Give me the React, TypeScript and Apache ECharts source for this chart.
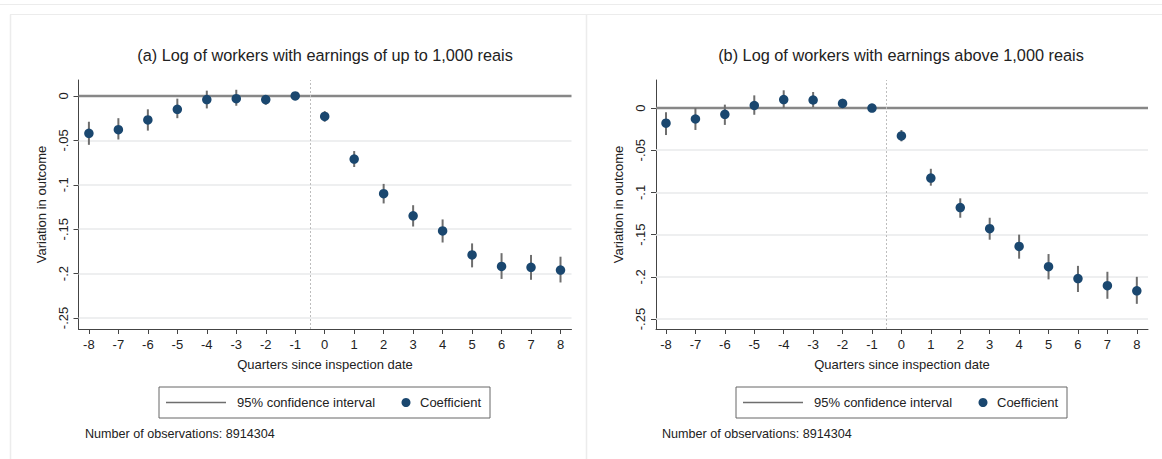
import React, { useEffect, useRef } from "react";
import * as echarts from "echarts";

const quarters = [-8, -7, -6, -5, -4, -3, -2, -1, 0, 1, 2, 3, 4, 5, 6, 7, 8];

const coefA = [-0.042, -0.038, -0.027, -0.015, -0.004, -0.003, -0.004, 0, -0.023, -0.071, -0.11, -0.135, -0.152, -0.179, -0.192, -0.193, -0.196];
const lowA = [-0.055, -0.049, -0.039, -0.025, -0.014, -0.011, -0.01, 0, -0.029, -0.08, -0.121, -0.147, -0.165, -0.193, -0.206, -0.207, -0.21];
const highA = [-0.029, -0.025, -0.015, -0.003, 0.006, 0.007, -0.001, 0, -0.017, -0.062, -0.099, -0.123, -0.139, -0.166, -0.177, -0.179, -0.181];

const coefB = [-0.018, -0.013, -0.0075, 0.003, 0.01, 0.0095, 0.0055, 0, -0.033, -0.083, -0.118, -0.143, -0.164, -0.188, -0.202, -0.2105, -0.2165];
const lowB = [-0.032, -0.026, -0.02, -0.008, 0.0, 0.001, 0.0, 0, -0.0395, -0.092, -0.13, -0.156, -0.1785, -0.203, -0.218, -0.226, -0.232];
const highB = [-0.005, 0.0, 0.004, 0.015, 0.021, 0.019, 0.011, 0, -0.026, -0.072, -0.107, -0.13, -0.15, -0.173, -0.187, -0.194, -0.2];

const yTickValues = [0, -0.05, -0.1, -0.15, -0.2, -0.25];
const yTickLabels = ["0", "-.05", "-.1", "-.15", "-.2", "-.25"];
const gridValues = [-0.05, -0.1, -0.15, -0.2, -0.25];

const titles = [
  "(a) Log of workers with earnings of up to 1,000 reais",
  "(b) Log of workers with earnings above 1,000 reais",
];
const xAxisName = "Quarters since inspection date";
const yAxisName = "Variation in outcome";
const legendCI = "95% confidence interval";
const legendCoef = "Coefficient";
const obsNote = "Number of observations: 8914304";

const FONT = "'Liberation Sans', Arial, sans-serif";
const NAVY = "#1a476f";
const CI_GREY = "#6e6e6e";
const TEXT = "#222";

export default function App() {
  const ref = useRef<HTMLDivElement>(null);

  useEffect(() => {
    if (!ref.current) return;
    const chart = echarts.init(ref.current, undefined, { renderer: "svg" });

    const grids = [
      { left: 78.5, top: 80, width: 493, height: 249 },
      { left: 656, top: 80, width: 492, height: 249 },
    ];
    const yRanges = [
      { min: -0.2624, max: 0.018 },
      { min: -0.2618, max: 0.0332 },
    ];
    const xRanges = [
      { min: -8.353, max: 8.373 },
      { min: -8.34, max: 8.38 },
    ];
    const panels = [
      { coef: coefA, low: lowA, high: highA },
      { coef: coefB, low: lowB, high: highB },
    ];

    const xAxes = grids.map((_, i) => ({
      type: "value",
      gridIndex: i,
      min: xRanges[i].min,
      max: xRanges[i].max,
      name: xAxisName,
      nameLocation: "middle",
      nameGap: 29,
      nameTextStyle: { fontFamily: FONT, fontSize: 13, color: TEXT },
      axisLine: { show: true, onZero: false, lineStyle: { color: "#444", width: 1 } },
      axisTick: { show: true, customValues: quarters, length: 5, lineStyle: { color: "#444" } },
      axisLabel: {
        customValues: quarters,
        margin: 9,
        fontFamily: FONT,
        fontSize: 13,
        color: TEXT,
        formatter: (v: number) => String(v),
      },
      splitLine: { show: false },
    }));

    const yAxes = grids.map((_, i) => ({
      type: "value",
      gridIndex: i,
      min: yRanges[i].min,
      max: yRanges[i].max,
      name: yAxisName,
      nameLocation: "middle",
      nameRotate: 90,
      nameGap: 31,
      nameTextStyle: { fontFamily: FONT, fontSize: 13, color: TEXT },
      axisLine: { show: true, onZero: false, lineStyle: { color: "#444", width: 1 } },
      axisTick: { show: true, customValues: yTickValues, length: 5, lineStyle: { color: "#444" } },
      axisLabel: {
        customValues: yTickValues,
        rotate: 90,
        margin: 9,
        fontFamily: FONT,
        fontSize: 13,
        color: TEXT,
        formatter: (v: number) => {
          const idx = yTickValues.findIndex((t) => Math.abs(t - v) < 1e-6);
          return idx >= 0 ? yTickLabels[idx] : "";
        },
      },
      splitLine: { show: false },
    }));

    const series: any[] = [];
    panels.forEach((p, i) => {
      series.push({
        type: "custom",
        xAxisIndex: i,
        yAxisIndex: i,
        silent: true,
        z: 2,
        data: quarters.map((q, k) => [q, p.low[k], p.high[k]]),
        renderItem: (params: any, api: any) => {
          const a = api.coord([api.value(0), api.value(1)]);
          const b = api.coord([api.value(0), api.value(2)]);
          return {
            type: "line",
            shape: { x1: a[0], y1: a[1], x2: b[0], y2: b[1] },
            style: { stroke: CI_GREY, lineWidth: 2 },
          };
        },
        markLine: {
          silent: true,
          z: 1,
          symbol: "none",
          label: { show: false },
          data: [
            ...gridValues.map((g) => ({ yAxis: g, lineStyle: { color: "#e8eaeb", width: 1.5, type: "solid" } })),
            { yAxis: 0, lineStyle: { color: "#878787", width: 2.4, type: "solid" } },
            { xAxis: -0.5, lineStyle: { color: "#bdbdbd", width: 1, type: [2, 2] } },
          ],
        },
      });
      series.push({
        type: "scatter",
        xAxisIndex: i,
        yAxisIndex: i,
        z: 3,
        symbol: "circle",
        symbolSize: 9.5,
        itemStyle: { color: NAVY, opacity: 1 },
        data: quarters.map((q, k) => [q, p.coef[k]]),
      });
    });

    const legendGraphics = (ox: number) => [
      {
        type: "rect",
        shape: { x: 159 + ox, y: 387, width: 331, height: 31 },
        style: { fill: "#fff", stroke: "#666", lineWidth: 1 },
      },
      {
        type: "line",
        shape: { x1: 166 + ox, y1: 402.5, x2: 226 + ox, y2: 402.5 },
        style: { stroke: CI_GREY, lineWidth: 1.5 },
      },
      {
        type: "text",
        x: 237 + ox,
        y: 402.5,
        style: { text: legendCI, fontFamily: FONT, fontSize: 13, fill: TEXT, verticalAlign: "middle" },
      },
      {
        type: "circle",
        shape: { cx: 406 + ox, cy: 402.5, r: 4.5 },
        style: { fill: NAVY },
      },
      {
        type: "text",
        x: 420 + ox,
        y: 402.5,
        style: { text: legendCoef, fontFamily: FONT, fontSize: 13, fill: TEXT, verticalAlign: "middle" },
      },
      {
        type: "text",
        x: 85 + ox,
        y: 434,
        style: { text: obsNote, fontFamily: FONT, fontSize: 12.6, fill: TEXT, verticalAlign: "middle" },
      },
    ];

    chart.setOption({
      animation: false,
      backgroundColor: "#fff",
      title: [
        {
          text: titles[0],
          left: 325,
          top: 47,
          padding: 0,
          textAlign: "center",
          textStyle: { fontFamily: FONT, fontSize: 16.3, fontWeight: "normal", color: TEXT },
        },
        {
          text: titles[1],
          left: 901,
          top: 47,
          padding: 0,
          textAlign: "center",
          textStyle: { fontFamily: FONT, fontSize: 16.3, fontWeight: "normal", color: TEXT },
        },
      ],
      grid: grids.map((g) => ({ ...g, containLabel: false })),
      xAxis: xAxes,
      yAxis: yAxes,
      series,
      graphic: [
        { type: "line", z: -10, shape: { x1: 0, y1: 4.5, x2: 1162, y2: 4.5 }, style: { stroke: "#ececec", lineWidth: 1 } },
        { type: "line", z: -10, shape: { x1: 10, y1: 14.5, x2: 1162, y2: 14.5 }, style: { stroke: "#ececec", lineWidth: 1 } },
        { type: "line", z: -10, shape: { x1: 10.5, y1: 14.5, x2: 10.5, y2: 459 }, style: { stroke: "#ececec", lineWidth: 1.5 } },
        { type: "line", z: -10, shape: { x1: 586.5, y1: 14.5, x2: 586.5, y2: 459 }, style: { stroke: "#ececec", lineWidth: 1.5 } },
        ...legendGraphics(0),
        ...legendGraphics(577),
      ],
    });

    return () => chart.dispose();
  }, []);

  return (
    <div
      ref={ref}
      style={{ position: "fixed", left: 0, top: 0, width: 1162, height: 459, background: "#fff" }}
    />
  );
}
